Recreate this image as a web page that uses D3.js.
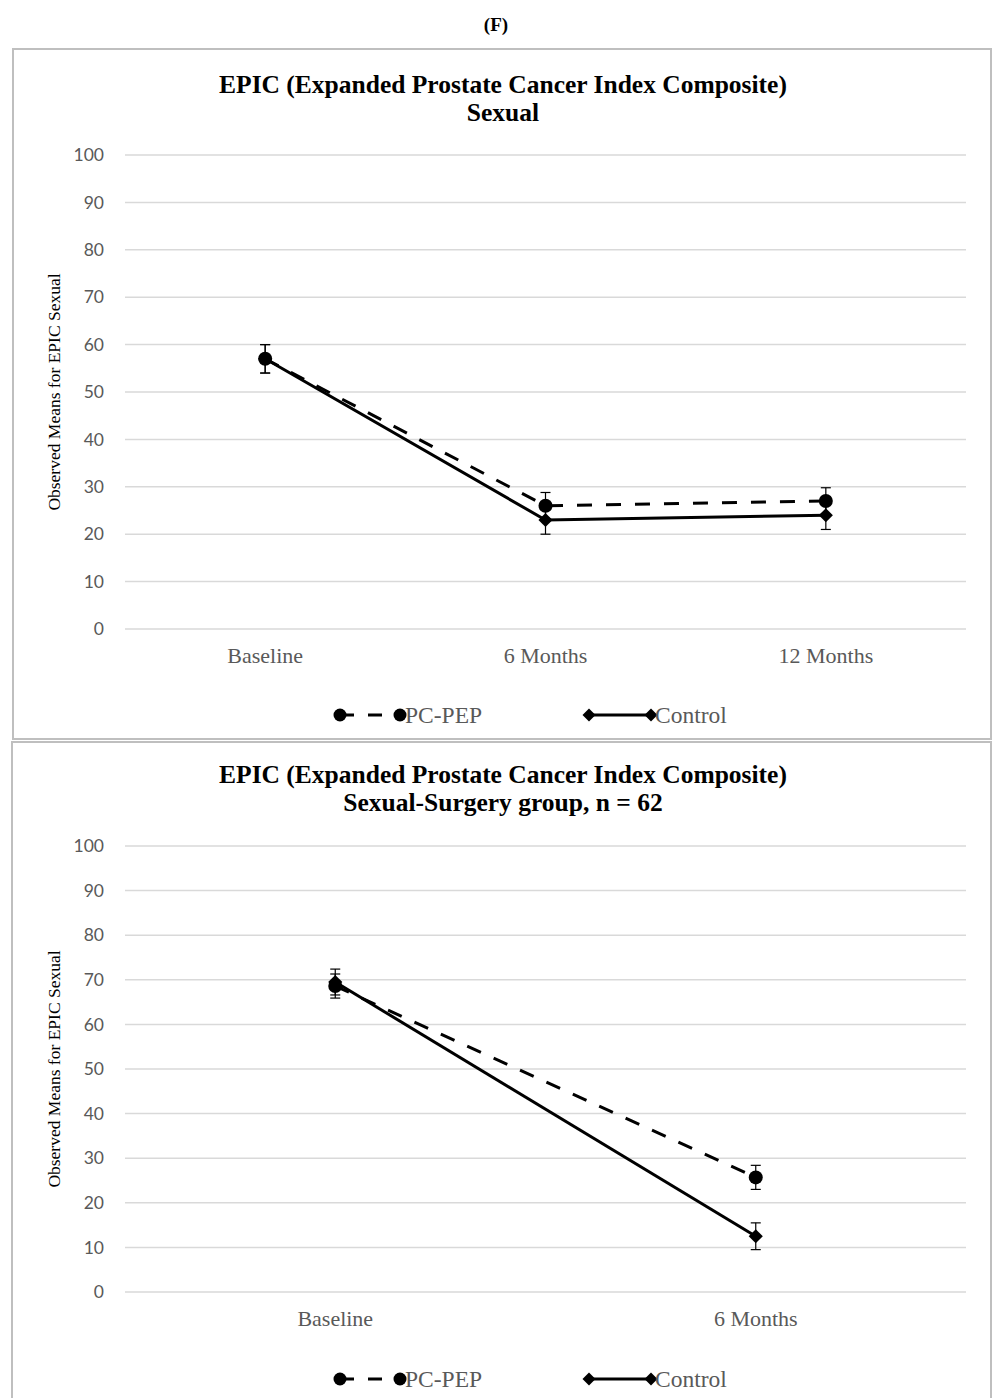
<!DOCTYPE html>
<html>
<head>
<meta charset="utf-8">
<script src="https://cdn.jsdelivr.net/npm/d3@7"></script>
<style>
  body { margin: 0; background: #fff; }
  svg { display: block; }
</style>
</head>
<body>
<script>
// chart data
var yTicks = [0, 10, 20, 30, 40, 50, 60, 70, 80, 90, 100];

var categoriesA = ["Baseline", "6 Months", "12 Months"];
var pcpepA = [57, 26, 27];
var pcpepErrA = [3, 2.8, 2.8];
var controlA = [57, 23, 24];
var controlErrA = [3, 3, 3];

var categoriesB = ["Baseline", "6 Months"];
var pcpepB = [68.6, 25.7];
var pcpepErrB = [2.7, 2.7];
var controlB = [69.5, 12.5];
var controlErrB = [2.9, 3];

var serif = "Liberation Serif, serif";

var svg = d3.select("body").append("svg")
  .attr("width", 992)
  .attr("height", 1398);

svg.append("text")
  .attr("x", 496).attr("y", 31)
  .attr("text-anchor", "middle")
  .attr("font-family", serif)
  .attr("font-weight", "bold")
  .attr("font-size", 19)
  .text("(F)");

function panel(p){
  var g = svg.append("g");
  // frame
  g.append("rect")
    .attr("x", p.box[0]).attr("y", p.box[1])
    .attr("width", p.box[2]).attr("height", p.box[3])
    .attr("fill", "none")
    .attr("stroke", "#bfbfbf")
    .attr("stroke-width", 2);

  g.selectAll(".ttl").data(p.title).enter().append("text")
    .attr("x", 503)
    .attr("y", function(d, i){ return p.titleY + i * 28; })
    .attr("text-anchor", "middle")
    .attr("font-family", serif)
    .attr("font-weight", "bold")
    .attr("font-size", 25.5)
    .text(function(d){ return d; });

  var x = d3.scaleBand().domain(p.cats).range([125, 966]);
  var y = d3.scaleLinear().domain([0, 100]).range([p.bottom, p.top]);
  var cx = function(i){ return x(p.cats[i]) + x.bandwidth() / 2; };

  // gridlines
  g.selectAll(".grid").data(yTicks).enter().append("line")
    .attr("x1", 125).attr("x2", 966)
    .attr("y1", function(d){ return y(d); })
    .attr("y2", function(d){ return y(d); })
    .attr("stroke", "#d9d9d9")
    .attr("stroke-width", 1.5);

  var yAxis = g.append("g")
    .attr("transform", "translate(125,0)")
    .call(d3.axisLeft(y).tickValues(yTicks).tickSize(0).tickPadding(21));
  yAxis.select(".domain").remove();
  yAxis.selectAll("text")
    .attr("font-family", "Lato, Open Sans, sans-serif")
    .attr("font-size", 17.5)
    .attr("fill", "#595959");

  var xAxis = g.append("g")
    .attr("transform", "translate(0," + p.bottom + ")")
    .call(d3.axisBottom(x).tickSize(0).tickPadding(18));
  xAxis.select(".domain").remove();
  xAxis.selectAll("text")
    .attr("font-family", serif)
    .attr("font-size", 22)
    .attr("fill", "#595959");

  g.append("text")
    .attr("transform", "translate(60," + ((p.top + p.bottom) / 2) + ") rotate(-90)")
    .attr("text-anchor", "middle")
    .attr("font-family", serif)
    .attr("font-size", 17.5)
    .attr("fill", "#000")
    .text("Observed Means for EPIC Sexual");

  var line = d3.line()
    .x(function(d, i){ return cx(i); })
    .y(function(d){ return y(d); });

  // error bars
  function errBars(vals, errs){
    vals.forEach(function(v, i){
      var x0 = cx(i);
      g.append("line")
        .attr("x1", x0).attr("x2", x0)
        .attr("y1", y(v + errs[i])).attr("y2", y(v - errs[i]))
        .attr("stroke", "#000").attr("stroke-width", 1.2);
      [v + errs[i], v - errs[i]].forEach(function(e){
        g.append("line")
          .attr("x1", x0 - 5).attr("x2", x0 + 5)
          .attr("y1", y(e)).attr("y2", y(e))
          .attr("stroke", "#000").attr("stroke-width", 1.2);
      });
    });
  }
  errBars(p.pcpep, p.pcpepErr);
  errBars(p.control, p.controlErr);

  g.append("path")
    .attr("d", line(p.control))
    .attr("fill", "none")
    .attr("stroke", "#000")
    .attr("stroke-width", 3);
  g.append("path")
    .attr("d", line(p.pcpep))
    .attr("fill", "none")
    .attr("stroke", "#000")
    .attr("stroke-width", 3)
    .attr("stroke-dasharray", "15,14");

  var diamond = d3.symbol().type(d3.symbolSquare).size(100);
  g.selectAll(".dia").data(p.control).enter().append("path")
    .attr("d", diamond)
    .attr("transform", function(d, i){ return "translate(" + cx(i) + "," + y(d) + ") rotate(45)"; })
    .attr("fill", "#000");
  g.selectAll(".dot").data(p.pcpep).enter().append("circle")
    .attr("cx", function(d, i){ return cx(i); })
    .attr("cy", function(d){ return y(d); })
    .attr("r", 7)
    .attr("fill", "#000");

  // legend
  var ly = p.legendY;
  g.append("line")
    .attr("x1", 340).attr("x2", 400).attr("y1", ly).attr("y2", ly)
    .attr("stroke", "#000").attr("stroke-width", 3)
    .attr("stroke-dasharray", "14,14");
  g.append("circle").attr("cx", 340).attr("cy", ly).attr("r", 6.5).attr("fill", "#000");
  g.append("circle").attr("cx", 400).attr("cy", ly).attr("r", 6.5).attr("fill", "#000");
  g.append("text")
    .attr("x", 405).attr("y", ly + 7.7)
    .attr("font-family", serif)
    .attr("font-size", 23.5)
    .attr("fill", "#595959")
    .text("PC-PEP");

  g.append("line")
    .attr("x1", 589).attr("x2", 651).attr("y1", ly).attr("y2", ly)
    .attr("stroke", "#000").attr("stroke-width", 3);
  [589, 651].forEach(function(xx){
    g.append("path").attr("d", diamond.size(85))
      .attr("transform", "translate(" + xx + "," + ly + ") rotate(45)")
      .attr("fill", "#000");
  });
  g.append("text")
    .attr("x", 655).attr("y", ly + 7.7)
    .attr("font-family", serif)
    .attr("font-size", 23.5)
    .attr("fill", "#595959")
    .text("Control");
}

panel({
  box: [13, 49, 978, 690],
  title: ["EPIC (Expanded Prostate Cancer Index Composite)", "Sexual"],
  titleY: 92.5,
  top: 155, bottom: 629,
  cats: categoriesA,
  pcpep: pcpepA, pcpepErr: pcpepErrA,
  control: controlA, controlErr: controlErrA,
  legendY: 715
});

panel({
  box: [12, 742, 979, 670],
  title: ["EPIC (Expanded Prostate Cancer Index Composite)", "Sexual-Surgery group, n = 62"],
  titleY: 782.5,
  top: 846, bottom: 1292,
  cats: categoriesB,
  pcpep: pcpepB, pcpepErr: pcpepErrB,
  control: controlB, controlErr: controlErrB,
  legendY: 1379
});
</script>
</body>
</html>
